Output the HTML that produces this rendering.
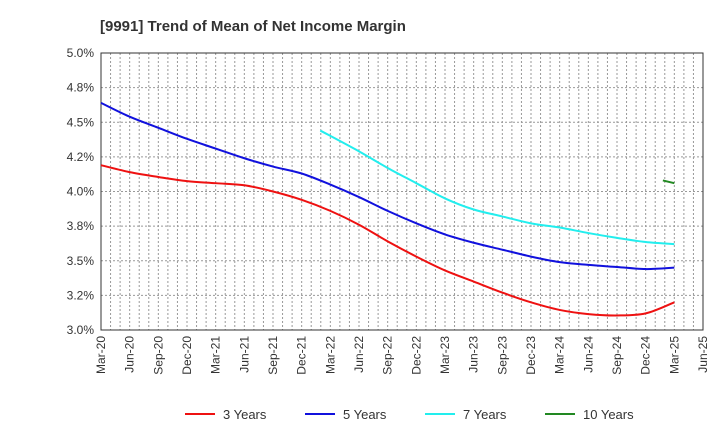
<!DOCTYPE html>
<html><head><meta charset="utf-8"><style>
body{margin:0;background:#fff;font-family:"Liberation Sans",Arial,sans-serif}
</style></head><body>
<svg id="c" width="720" height="440" xmlns="http://www.w3.org/2000/svg"></svg>
<script>
const xLabels=["Mar-20","Jun-20","Sep-20","Dec-20","Mar-21","Jun-21","Sep-21","Dec-21","Mar-22","Jun-22","Sep-22","Dec-22","Mar-23","Jun-23","Sep-23","Dec-23","Mar-24","Jun-24","Sep-24","Dec-24","Mar-25","Jun-25"];
const yTicks=[3.0,3.25,3.5,3.75,4.0,4.25,4.5,4.75,5.0];
const yTickLabels=["3.0%","3.2%","3.5%","3.8%","4.0%","4.2%","4.5%","4.8%","5.0%"];
const s3=[4.19,4.14,4.105,4.075,4.06,4.045,4.00,3.94,3.86,3.76,3.64,3.53,3.43,3.35,3.27,3.20,3.145,3.115,3.105,3.12,3.20];
const s5=[4.64,4.54,4.46,4.38,4.31,4.24,4.18,4.13,4.05,3.96,3.86,3.77,3.69,3.63,3.58,3.53,3.49,3.47,3.455,3.44,3.45];
const s7Idx=[7.65,9,10,11,12,13,14,15,16,17,18,19,20];
const s7=[4.44,4.29,4.17,4.06,3.95,3.87,3.82,3.77,3.74,3.70,3.665,3.635,3.62];
const s10Idx=[19.6,20];
const s10=[4.08,4.06];
const L=101,R=703,T=53,B=330;
const X=i=>L+(R-L)*i/21, Y=v=>B-(v-3)/2*(B-T);
const svg=document.getElementById('c');const NS='http://www.w3.org/2000/svg';
function mk(t,a,p){const e=document.createElementNS(NS,t);for(const k in a)e.setAttribute(k,a[k]);(p||svg).appendChild(e);return e;}
let t=mk('text',{x:100,y:31,'font-size':15,'font-weight':'bold',fill:'#333'});


t.textContent='[9991]  Trend of Mean of Net Income Margin';
for(let m=1;m<63;m++){const x=L+(R-L)*m/63;const g=mk('line',{x1:x,x2:x,y1:T,y2:B,stroke:'#999','stroke-dasharray':'2,2'});

}
yTicks.forEach((v,i)=>{const g=mk('line',{x1:L,x2:R,y1:Y(v),y2:Y(v),stroke:'#999','stroke-dasharray':'2,2'});


const tx=mk('text',{x:L-7,y:Y(v)+4,'font-size':12,'text-anchor':'end',fill:'#333'});


tx.textContent=yTickLabels[i];});
xLabels.forEach((s,i)=>{const tx=mk('text',{transform:`translate(${X(i)+4},${B+6}) rotate(-90)`,'font-size':12,'text-anchor':'end',fill:'#333'});


tx.textContent=s;});
const fr=mk('rect',{x:L,y:T,width:R-L,height:B-T,fill:'none',stroke:'#333'});


function path(idx,vals){const p=idx.map((i,k)=>[X(i),Y(vals[k])]);let d=`M${p[0][0]},${p[0][1]}`;
for(let k=0;k<p.length-1;k++){const p0=p[k-1]||p[k],p1=p[k],p2=p[k+1],p3=p[k+2]||p2;
d+=`C${p1[0]+(p2[0]-p0[0])/6},${p1[1]+(p2[1]-p0[1])/6} ${p2[0]-(p3[0]-p1[0])/6},${p2[1]-(p3[1]-p1[1])/6} ${p2[0]},${p2[1]}`;}return d;}
const series=[[s3.map((_,i)=>i),s3,'#ee1111','series-3-years','3 Years'],[s5.map((_,i)=>i),s5,'#1111dd','series-5-years','5 Years'],[s7Idx,s7,'#22eeee','series-7-years','7 Years'],[s10Idx,s10,'#228822','series-10-years','10 Years']];
series.forEach(([ix,v,c,n])=>{const p=mk('path',{d:path(ix,v),fill:'none',stroke:c,'stroke-width':2});

});
const lx=[185,305,425,545];
series.forEach(([,,c,n,lab],i)=>{const g=mk('g',{});


mk('line',{x1:lx[i],x2:lx[i]+30,y1:414,y2:414,stroke:c,'stroke-width':2},g);
const tx=mk('text',{x:lx[i]+38,y:419,'font-size':13,fill:'#333'},g);tx.textContent=lab;});
</script></body></html>
